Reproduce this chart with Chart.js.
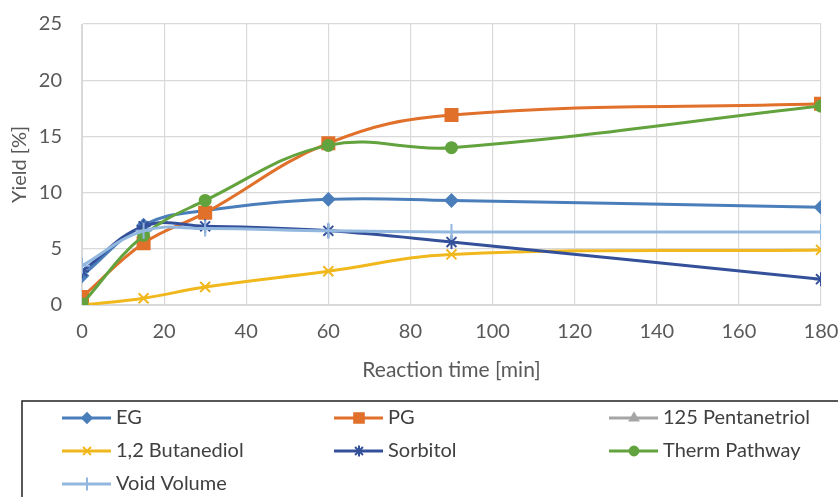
<!DOCTYPE html>
<html>
<head>
<meta charset="utf-8">
<script src="https://cdn.jsdelivr.net/npm/chart.js@4/dist/chart.umd.min.js"></script>
<style>
  body { margin: 0; background: #fff; }
</style>
</head>
<body>
<canvas id="myChart" width="838" height="497"></canvas>
<script>
// reaction times in minutes
var times = [0, 15, 30, 60, 90, 180];

var seriesNames = ['EG', 'PG', '125 Pentanetriol', '1,2 Butanediol', 'Sorbitol', 'Therm Pathway', 'Void Volume'];
var eg = [2.6, 7.1, 8.4, 9.4, 9.3, 8.7];
var pg = [0.7, 5.5, 8.2, 14.4, 16.9, 17.9];
var pentanetriol = [];
var butanediol = [0, 0.6, 1.6, 3.0, 4.5, 4.9];
var sorbitol = [3.0, 7.0, 7.0, 6.6, 5.6, 2.3];
var therm = [0.1, 6.2, 9.3, 14.2, 14.0, 17.7];
var voidVolume = [3.5, 6.6, 6.8, 6.6, 6.5, 6.5];

var xTicks = [0, 20, 40, 60, 80, 100, 120, 140, 160, 180];
var yTicks = [0, 5, 10, 15, 20, 25];

var FONT = 'Lato, "Open Sans", sans-serif';

function pts(vals) {
    return vals.map(function (v, i) { return { x: times[i], y: v }; });
}

var styles = [
    { color: '#4a7ebb', point: 'rectRot', radius: 6 },
    { color: '#e0702a', point: 'rect', radius: 8.5 },
    { color: '#a5a5a5', point: 'triangle', radius: 6 },
    { color: '#f0b81c', point: 'crossRot', radius: 7 },
    { color: '#34509a', point: 'star', radius: 7 },
    { color: '#62a33e', point: 'circle', radius: 5.5 },
    { color: '#93b8e0', point: 'cross', radius: 8 }
];
var values = [eg, pg, pentanetriol, butanediol, sorbitol, therm, voidVolume];

var datasets = seriesNames.map(function (name, i) {
    var s = styles[i];
    return {
        label: name,
        data: pts(values[i]),
        borderColor: s.color,
        backgroundColor: s.color,
        borderWidth: 3,
        pointStyle: s.point,
        pointRadius: s.radius,
        pointBorderWidth: 2,
        pointHoverRadius: s.radius,
        tension: 0.4,
        order: seriesNames.length - i
    };
});

// legend drawn like the Excel boxed legend, 3 columns
var boxLegend = {
    id: 'boxLegend',
    afterDraw: function (chart) {
        var ctx = chart.ctx;
        ctx.save();
        ctx.strokeStyle = '#222';
        ctx.lineWidth = 1.5;
        ctx.strokeRect(22, 401, 900, 200);
        var colX = [62, 334, 609];
        var rowY = [418, 451, 484];
        ctx.font = '20px ' + FONT;
        ctx.textBaseline = 'middle';
        seriesNames.forEach(function (name, i) {
            var s = styles[i];
            var x = colX[i % 3], y = rowY[Math.floor(i / 3)];
            ctx.strokeStyle = s.color;
            ctx.fillStyle = s.color;
            ctx.lineWidth = 3;
            ctx.beginPath();
            ctx.moveTo(x, y);
            ctx.lineTo(x + 49, y);
            ctx.stroke();
            ctx.lineWidth = 2;
            Chart.helpers.drawPoint(ctx, { pointStyle: s.point, radius: s.radius * 0.8, borderWidth: 2, rotation: 0 }, x + 25, y);
            ctx.fillStyle = '#404040';
            ctx.fillText(name, x + 54, y);
        });
        ctx.restore();
    }
};

var canvas = document.getElementById('myChart');
new Chart(canvas, {
    type: 'line',
    data: { datasets: datasets },
    options: {
        responsive: false,
        animation: false,
        layout: { padding: { top: 24, right: 17, bottom: 100, left: 0 } },
        plugins: {
            legend: { display: false },
            tooltip: { enabled: false }
        },
        scales: {
            x: {
                type: 'linear',
                min: 0,
                max: 180,
                afterFit: function (scale) {
                    scale.height = 92;
                    scale.paddingLeft = 0;
                    scale.paddingRight = 0;
                },
                afterBuildTicks: function (scale) {
                    scale.ticks = xTicks.map(function (v) { return { value: v }; });
                },
                ticks: { font: { size: 20, family: FONT }, color: '#595959', padding: 15, maxRotation: 0 },
                grid: { color: '#d9d9d9', lineWidth: 1.2, drawTicks: false },
                border: { color: '#d9d9d9' },
                title: {
                    display: true,
                    text: 'Reaction time [min]',
                    font: { size: 21, family: FONT },
                    color: '#595959',
                    padding: { top: 0, bottom: 14 }
                }
            },
            y: {
                min: 0,
                max: 25,
                afterFit: function (scale) {
                    scale.width = 82;
                    scale.paddingTop = 0;
                    scale.paddingBottom = 0;
                },
                afterBuildTicks: function (scale) {
                    scale.ticks = yTicks.map(function (v) { return { value: v }; });
                },
                ticks: { font: { size: 20, family: FONT }, color: '#595959', padding: 20 },
                grid: { color: '#d9d9d9', lineWidth: 1.2, drawTicks: false },
                border: { color: '#d9d9d9' },
                title: {
                    display: true,
                    text: 'Yield [%]',
                    font: { size: 20, family: FONT },
                    color: '#595959',
                    padding: { top: 8, bottom: 0 }
                }
            }
        }
    },
    plugins: [boxLegend]
});
</script>
</body>
</html>
